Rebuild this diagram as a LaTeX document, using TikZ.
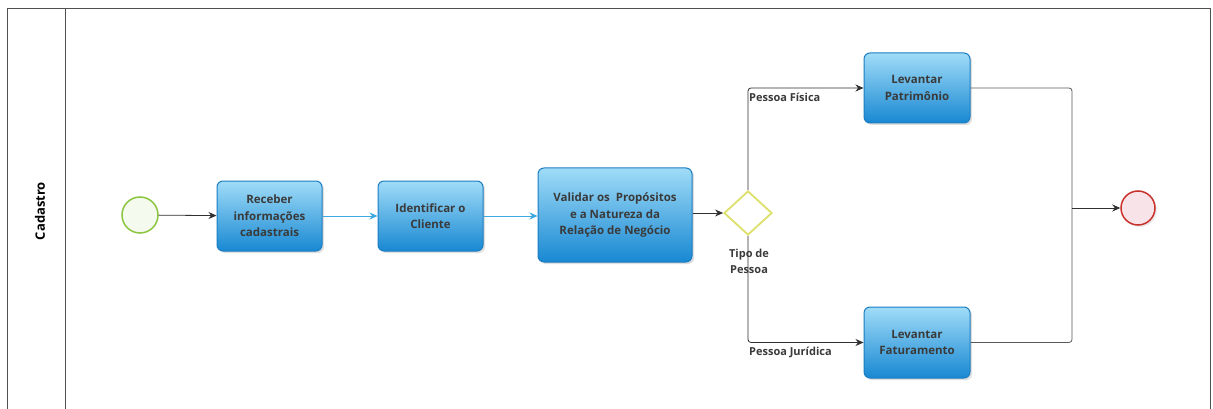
\documentclass[tikz,border=0pt]{standalone}
\usepackage{fontspec}
\setmainfont{Open Sans}
\usetikzlibrary{shapes.geometric,arrows.meta,shadows}
\definecolor{frameC}{HTML}{505050}
\definecolor{taskTop}{HTML}{A0DCF8}
\definecolor{taskBot}{HTML}{1888D2}
\definecolor{taskBorder}{HTML}{1B7DC2}
\definecolor{flowC}{HTML}{303030}
\definecolor{flowBlue}{HTML}{3DA9E0}
\definecolor{startC}{HTML}{8CC63F}
\definecolor{startF}{HTML}{F4FAEE}
\definecolor{endC}{HTML}{C8322C}
\definecolor{endF}{HTML}{F7E3E8}
\definecolor{gwC}{HTML}{DDE06A}
\definecolor{txtC}{HTML}{3A3A3A}
\tikzset{
  task/.style={draw=taskBorder, line width=1pt, rounded corners=6pt,
    top color=taskTop, bottom color=taskBot, align=center, text=txtC,
    font=\fontsize{11.5}{16.5}\selectfont\bfseries, inner sep=2pt,
    drop shadow={shadow xshift=2pt, shadow yshift=-2pt, opacity=0.25}},
  flow/.style={draw=flowC, line width=0.8pt, -{Stealth[length=8pt,width=7pt]}},
  flowb/.style={draw=flowBlue, line width=0.8pt, -{Stealth[length=8pt,width=7pt]}},
  plain/.style={draw=flowC!80, line width=0.8pt, rounded corners=3pt},
  lbl/.style={text=txtC, font=\fontsize{11}{16}\selectfont\bfseries, inner sep=1pt},
}
\begin{document}
\begin{tikzpicture}[x=1pt,y=-1pt]
\useasboundingbox (0,0) rectangle (1213,409);
\fill[white] (0,0) rectangle (1213,409);
% pool frame
\draw[frameC, line width=1pt] (7,409) -- (7,9) -- (1210,9) -- (1210,409);
\draw[frameC, line width=1pt] (65,9) -- (65,409);
\node[rotate=90, font=\fontsize{13}{14}\selectfont\bfseries, text=black] (lane) at (40,211) {Cadastro};
% events
\node[circle, draw=startC, fill=startF, line width=1.5pt, minimum size=36pt, inner sep=0pt] (start) at (140,215) {};
\node[circle, draw=endC, fill=endF, line width=1.5pt, minimum size=34pt, inner sep=0pt,
  drop shadow={shadow xshift=2pt, shadow yshift=-2pt, opacity=0.15}] (end) at (1138,208) {};
% tasks
\node[task, minimum width=105pt, minimum height=70pt] (t1) at (269.5,216) {Receber\\informações\\cadastrais};
\node[task, minimum width=105pt, minimum height=70pt] (t2) at (430.5,216) {Identificar o\\Cliente};
\node[task, minimum width=154pt, minimum height=94pt] (t3) at (615,215) {Validar os~ Propósitos\\e a Natureza da\\Relação de Negócio};
\node[task, minimum width=106pt, minimum height=70pt] (t4) at (917,88) {Levantar\\Patrimônio};
\node[task, minimum width=106pt, minimum height=71pt] (t5) at (917,342.5) {Levantar\\Faturamento};
% gateway
\node[diamond, draw=gwC, fill=white, line width=1.8pt, minimum width=48pt, minimum height=44pt, inner sep=0pt] (gw) at (748,213) {};
% flows
\draw[flow] (start) -- (t1);
\draw[flowb] (t1) -- (t2);
\draw[flowb] (t2) -- (t3.west |- t2);
\draw[flow] (t3.east |- gw) -- (gw);
\draw[flow, rounded corners=3pt] (gw.north) |- (t4.west);
\draw[flow, rounded corners=3pt] (gw.south) |- (t5.west);
\coordinate (j) at (1072,208);
\draw[plain] (t4.east) -| (j);
\draw[plain] (t5.east) -| (j);
\draw[flow] (j) -- (end);
% labels
\node[lbl, align=center] (gwl) at (749,261) {Tipo de\\Pessoa};
\node[lbl, anchor=west] (lpf) at (748,97) {Pessoa Física};
\node[lbl, anchor=west] (lpj) at (748,352) {Pessoa Jurídica};
\end{tikzpicture}
\end{document}
